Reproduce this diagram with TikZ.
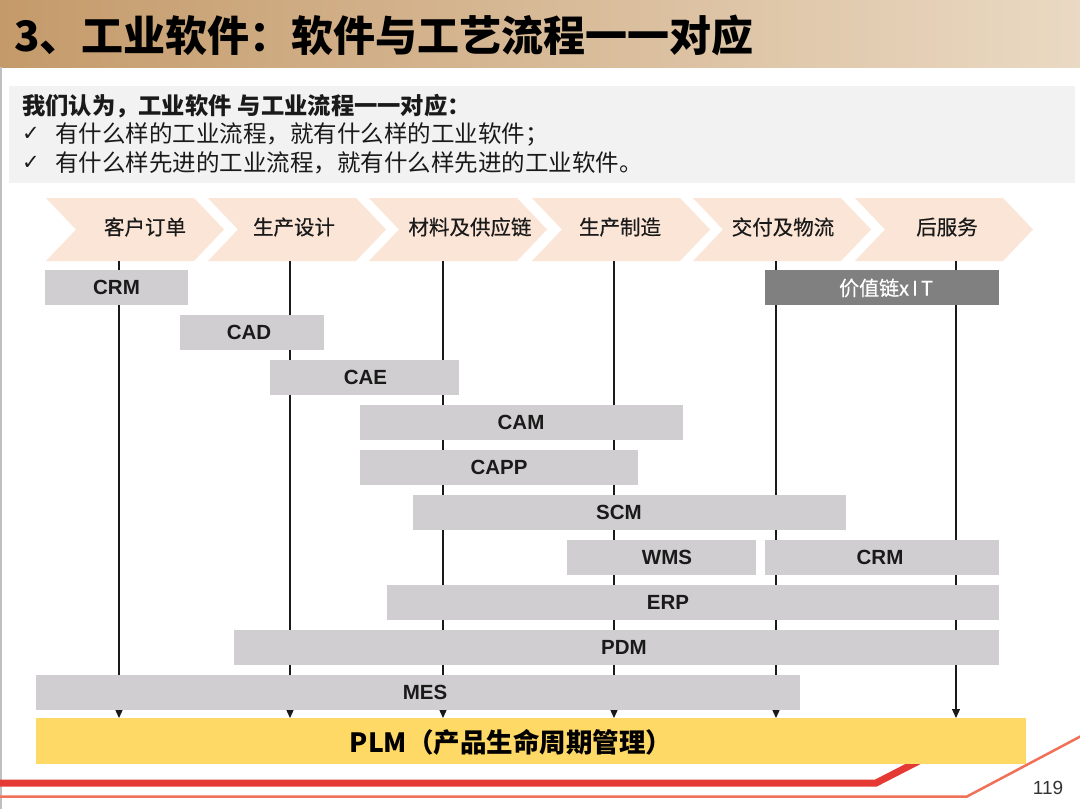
\documentclass[tikz,border=0pt]{standalone}
\usepackage{fontspec}
\setmainfont{Liberation Sans}
\newfontfamily\cjk{Noto Sans CJK SC}
\newfontfamily\cjkmed[FakeBold=0.5]{Noto Sans CJK SC}
\newfontfamily\symf{DejaVu Sans}
\usetikzlibrary{arrows.meta}
\definecolor{titleL}{HTML}{C49A6A}
\definecolor{titleR}{HTML}{EAD9C3}
\definecolor{infobg}{HTML}{F2F2F2}
\definecolor{chevc}{HTML}{FBE5D6}
\definecolor{barc}{HTML}{D0CED0}
\definecolor{darkbar}{HTML}{808080}
\definecolor{plmc}{HTML}{FFD966}
\definecolor{redthick}{HTML}{E53A33}
\definecolor{redthin}{HTML}{F07058}
\definecolor{txt}{HTML}{1A1A1A}
\tikzset{
  chevfill/.style={fill=chevc},
  chevtext/.style={font=\cjkmed\fontsize{20.5}{22}\selectfont, text=txt, inner sep=0pt},
  bar/.style={fill=barc, draw=none, inner sep=0pt, outer sep=0pt},
  barlabel/.style={font=\bfseries\fontsize{20.5}{22}\selectfont, text=txt, inner sep=0pt},
  flow/.style={draw=txt, line width=1.1pt, -{Triangle[width=8pt,length=9pt]}},
  infotext/.style={anchor=west, inner sep=0pt, text=txt},
}
\newcommand\chev[2]{%
  \fill[chevfill] (#1,198) -- ({#1+148},198) -- ({#1+178},229.5) -- ({#1+148},261) -- (#1,261) -- ({#1+30},229.5) -- cycle;
  \node[chevtext] (#2) at ({#1+100},227) {};}
\newcommand\swbar[7]{%
  \node[bar, minimum width={(#4-#2)*1pt}, minimum height={(#5-#3)*1pt}] (#1) at ({(#2+#4)/2},{(#3+#5)/2}) {};
  \node[barlabel] (#1-t) at (#6,{(#3+#5)/2}) {#7};}
\begin{document}
\begin{tikzpicture}[x=1pt,y=-1pt]
\useasboundingbox (0,0) rectangle (1080,809);
\fill[white] (0,0) rectangle (1080,809);
% title bar
\shade[left color=titleL, right color=titleR] (0,0) rectangle (1080,67);
\node[anchor=west, inner sep=0pt, font=\cjk\bfseries\fontsize{42}{44}\selectfont, text=black] (title) at (14,35) {3、工业软件：软件与工艺流程一一对应};
\draw[draw=black!25, line width=1.5pt] (1,67) -- (1,809);
% info box
\fill[infobg] (9,86) rectangle (1075,183);
\node[infotext, font=\cjk\bfseries\fontsize{23.3}{25}\selectfont] (l1t) at (22,106) {我们认为，工业软件\hspace{6pt}与工业流程一一对应：};
\node[infotext, font=\symf\fontsize{21}{22}\selectfont] (ck1) at (22,134) {✓};
\node[infotext, font=\cjk\fontsize{23.5}{25}\selectfont] (l2t) at (55,134) {有什么样的工业流程，就有什么样的工业软件；};
\node[infotext, font=\symf\fontsize{21}{22}\selectfont] (ck2) at (22,163) {✓};
\node[infotext, font=\cjk\fontsize{23.5}{25}\selectfont] (l3t) at (55,163) {有什么样先进的工业流程，就有什么样先进的工业软件。};
% chevrons
\chev{46}{c1}\chev{208}{c2}\chev{369}{c3}\chev{532}{c4}\chev{693}{c5}\chev{855}{c6}
\node[chevtext] (c1t) at (145,227) {客户订单};
\node[chevtext] (c2t) at (294,227) {生产设计};
\node[chevtext] (c3t) at (470,227) {材料及供应链};
\node[chevtext] (c4t) at (620,227) {生产制造};
\node[chevtext] (c5t) at (783,227) {交付及物流};
\node[chevtext] (c6t) at (947,227) {后服务};
% red lines
\draw[redthick, line width=7pt] (0,783) -- (876,783) -- (950,745);
\draw[redthin, line width=2.5pt] (0,796.5) -- (967,796.5) -- (1085,734);
\node[inner sep=0pt, font=\fontsize{19}{21}\selectfont, text=black!80] (page) at (1048,788) {119};
% PLM
\node[fill=plmc, inner sep=0pt, outer sep=0pt, minimum width=990pt, minimum height=46pt] (plm) at (531,741) {};
\node[inner sep=0pt, font=\cjk\bfseries\fontsize{26.5}{28}\selectfont, text=black] (plmt) at (511,742) {PLM（产品生命周期管理）};
% flow lines
\foreach \n/\x in {1/119,2/290,3/443,4/614,5/776,6/956}{
  \coordinate (v\n) at (\x,261);
  \draw[flow] (v\n) -- (v\n |- plm.north);
}
% bars
\swbar{crm}{45}{270}{188}{305}{116.5}{CRM}
\node[fill=darkbar, inner sep=0pt, outer sep=0pt, minimum width=234pt, minimum height=35pt] (vit) at (882,287.5) {};
\node[inner sep=0pt, font=\cjkmed\fontsize{20}{22}\selectfont, text=white] (vitt) at (886,288) {价值链x\hspace{3pt}I\hspace{3pt}T};
\swbar{cad}{180}{315}{324}{350}{249}{CAD}
\swbar{cae}{270}{360}{459}{395}{365.5}{CAE}
\swbar{cam}{360}{405}{683}{440}{521}{CAM}
\swbar{capp}{360}{450}{638}{485}{499}{CAPP}
\swbar{scm}{413}{495}{846}{530}{619}{SCM}
\swbar{wms}{567}{540}{756}{575}{667}{WMS}
\swbar{crmb}{765}{540}{999}{575}{880}{CRM}
\swbar{erp}{387}{585}{999}{620}{668}{ERP}
\swbar{pdm}{234}{630}{999}{665}{624}{PDM}
\swbar{mes}{36}{675}{800}{710}{425}{MES}
\end{tikzpicture}
\end{document}
